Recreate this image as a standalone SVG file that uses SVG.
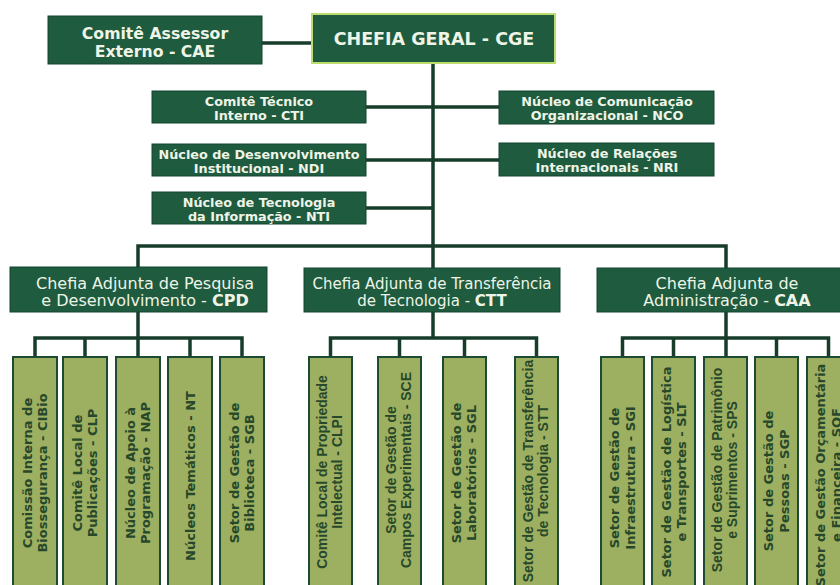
<svg xmlns="http://www.w3.org/2000/svg" width="840" height="585" viewBox="0 0 840 585">
<style>
.dk{fill:#1e5b3f;stroke:#174530;stroke-width:1}
.cge{fill:#1e5b3f;stroke:#bcdc6e;stroke-width:2}
.ol{fill:#9daf60;stroke:#1d4a32;stroke-width:2}
.tb{font-family:"DejaVu Sans",Verdana,sans-serif;font-weight:bold;fill:#eef4e6;text-anchor:middle}
.tr{font-family:"DejaVu Sans",Verdana,sans-serif;font-weight:normal;fill:#eef4e6;text-anchor:middle}
.tv{font-family:"DejaVu Sans",Verdana,sans-serif;font-weight:bold;fill:#27482a;text-anchor:middle;font-size:13px}
.tn{font-family:"Liberation Sans",Arial,sans-serif;font-weight:bold;fill:#27482a;text-anchor:middle;font-size:14px}
.ln{stroke:#173d2a;stroke-width:3.5;fill:none}
</style>
<rect width="840" height="585" fill="#ffffff"/>
<g id="connectors" class="ln">
<path d="M262 43H312"/>
<path d="M433 64V268"/>
<path d="M366 107H499"/>
<path d="M366 160H499"/>
<path d="M366 208H433"/>
<path d="M138 268V246H726V268"/>
<path d="M138 312V357"/>
<path d="M35 357V338H242V357"/>
<path d="M85 338V357"/>
<path d="M190 338V357"/>
<path d="M433 312V338"/>
<path d="M330.5 357V338H536.5V357"/>
<path d="M399.5 338V357"/>
<path d="M464.5 338V357"/>
<path d="M726 312V357"/>
<path d="M622.5 357V338H828.5V357"/>
<path d="M673.5 338V357"/>
<path d="M776.5 338V357"/>
</g>
<g id="cae"><rect class="dk" x="48" y="16" width="214" height="48"/>
<text class="tb" font-size="15.7" x="155" y="39">Comitê Assessor</text>
<text class="tb" font-size="15.7" x="155" y="57">Externo - CAE</text></g>
<g id="cge"><rect class="cge" x="312" y="14" width="243" height="49"/>
<text class="tb" font-size="17.5" x="434" y="45">CHEFIA GERAL - CGE</text></g>
<g id="cti"><rect class="dk" x="152" y="91" width="214" height="32"/>
<text class="tb" font-size="12.8" x="259" y="105.5">Comitê Técnico</text>
<text class="tb" font-size="12.8" x="259" y="119.5">Interno - CTI</text></g>
<g id="ndi"><rect class="dk" x="152" y="144" width="214" height="32"/>
<text class="tb" font-size="12.8" x="259" y="158.5">Núcleo de Desenvolvimento</text>
<text class="tb" font-size="12.8" x="259" y="172.5">Institucional - NDI</text></g>
<g id="nti"><rect class="dk" x="152" y="192" width="214" height="32"/>
<text class="tb" font-size="12.8" x="259" y="206.5">Núcleo de Tecnologia</text>
<text class="tb" font-size="12.8" x="259" y="220.5">da Informação - NTI</text></g>
<g id="nco"><rect class="dk" x="499" y="91" width="215" height="33"/>
<text class="tb" font-size="12.8" x="607" y="105.5">Núcleo de Comunicação</text>
<text class="tb" font-size="12.8" x="607" y="119.5">Organizacional - NCO</text></g>
<g id="nri"><rect class="dk" x="499" y="143" width="215" height="33"/>
<text class="tb" font-size="12.8" x="607" y="158">Núcleo de Relações</text>
<text class="tb" font-size="12.8" x="607" y="172">Internacionais - NRI</text></g>
<g id="cpd"><rect class="dk" x="10" y="267" width="257" height="45"/>
<text class="tr" font-size="16" x="145" y="288.5">Chefia Adjunta de Pesquisa</text>
<text class="tr" font-size="16" x="145" y="306">e Desenvolvimento - <tspan font-weight="bold">CPD</tspan></text></g>
<g id="ctt"><rect class="dk" x="304" y="268" width="256" height="44"/>
<text class="tr" font-size="15" x="432" y="288.5">Chefia Adjunta de Transferência</text>
<text class="tr" font-size="15" x="432" y="306">de Tecnologia - <tspan font-weight="bold">CTT</tspan></text></g>
<g id="caa"><rect class="dk" x="597" y="268" width="250" height="44"/>
<text class="tr" font-size="16" x="727" y="288.5">Chefia Adjunta de</text>
<text class="tr" font-size="16" x="727" y="306">Administração - <tspan font-weight="bold">CAA</tspan></text></g>
<g id="cibio"><rect class="ol" x="13" y="357" width="44" height="240"/>
<text class="tv" transform="translate(31.5 473) rotate(-90)">Comissão Interna de</text>
<text class="tv" transform="translate(46.5 473) rotate(-90)">Biossegurança - CIBio</text></g>
<g id="clp"><rect class="ol" x="63" y="357" width="44" height="240"/>
<text class="tv" transform="translate(81.5 473) rotate(-90)">Comitê Local de</text>
<text class="tv" transform="translate(96.5 473) rotate(-90)">Publicações - CLP</text></g>
<g id="nap"><rect class="ol" x="116" y="357" width="44" height="240"/>
<text class="tv" transform="translate(134.5 473) rotate(-90)">Núcleo de Apoio à</text>
<text class="tv" transform="translate(149.5 473) rotate(-90)">Programação - NAP</text></g>
<g id="nt"><rect class="ol" x="168" y="357" width="44" height="240"/>
<text class="tv" transform="translate(194.5 476) rotate(-90)">Núcleos Temáticos - NT</text></g>
<g id="sgb"><rect class="ol" x="220" y="357" width="44" height="240"/>
<text class="tv" transform="translate(238.5 473) rotate(-90)">Setor de Gestão de</text>
<text class="tv" transform="translate(253.5 473) rotate(-90)">Biblioteca - SGB</text></g>
<g id="clpi"><rect class="ol" x="309" y="357" width="43" height="240"/>
<text class="tn" transform="translate(327 472) rotate(-90)">Comitê Local de Propriedade</text>
<text class="tn" transform="translate(342 472) rotate(-90)">Intelectual - CLPI</text></g>
<g id="sce"><rect class="ol" x="378" y="357" width="43" height="240"/>
<text class="tn" transform="translate(396 470) rotate(-90)">Setor de Gestão de</text>
<text class="tn" transform="translate(411 470) rotate(-90)">Campos Experimentais - SCE</text></g>
<g id="sgl"><rect class="ol" x="443" y="357" width="43" height="240"/>
<text class="tv" transform="translate(461 473) rotate(-90)">Setor de Gestão de</text>
<text class="tv" transform="translate(476 473) rotate(-90)">Laboratórios - SGL</text></g>
<g id="stt"><rect class="ol" x="515" y="357" width="43" height="240"/>
<text class="tn" transform="translate(533 471) rotate(-90)">Setor de Gestão de Transferência</text>
<text class="tn" transform="translate(548 471) rotate(-90)">de Tecnologia - STT</text></g>
<g id="sgi"><rect class="ol" x="601" y="357" width="43" height="240"/>
<text class="tv" font-size="14.5" transform="translate(619 478) rotate(-90)">Setor de Gestão de</text>
<text class="tv" font-size="14.5" transform="translate(634.5 478) rotate(-90)">Infraestrutura - SGI</text></g>
<g id="slt"><rect class="ol" x="652" y="357" width="43" height="240"/>
<text class="tv" font-size="13.5" transform="translate(670.5 472) rotate(-90)">Setor de Gestão de Logística</text>
<text class="tv" font-size="13.5" transform="translate(685.5 472) rotate(-90)">e Transportes - SLT</text></g>
<g id="sps"><rect class="ol" x="704" y="357" width="43" height="240"/>
<text class="tn" transform="translate(722 470) rotate(-90)">Setor de Gestão de Patrimônio</text>
<text class="tn" transform="translate(737 470) rotate(-90)">e Suprimentos - SPS</text></g>
<g id="sgp"><rect class="ol" x="755" y="357" width="43" height="240"/>
<text class="tv" font-size="14.5" transform="translate(773 481) rotate(-90)">Setor de Gestão de</text>
<text class="tv" font-size="14.5" transform="translate(788.5 481) rotate(-90)">Pessoas - SGP</text></g>
<g id="sof"><rect class="ol" x="807" y="357" width="43" height="240"/>
<text class="tv" font-size="14.5" transform="translate(825 475) rotate(-90)">Setor de Gestão Orçamentária</text>
<text class="tv" font-size="14.5" transform="translate(840.5 475) rotate(-90)">e Financeira - SOF</text></g>
</svg>
